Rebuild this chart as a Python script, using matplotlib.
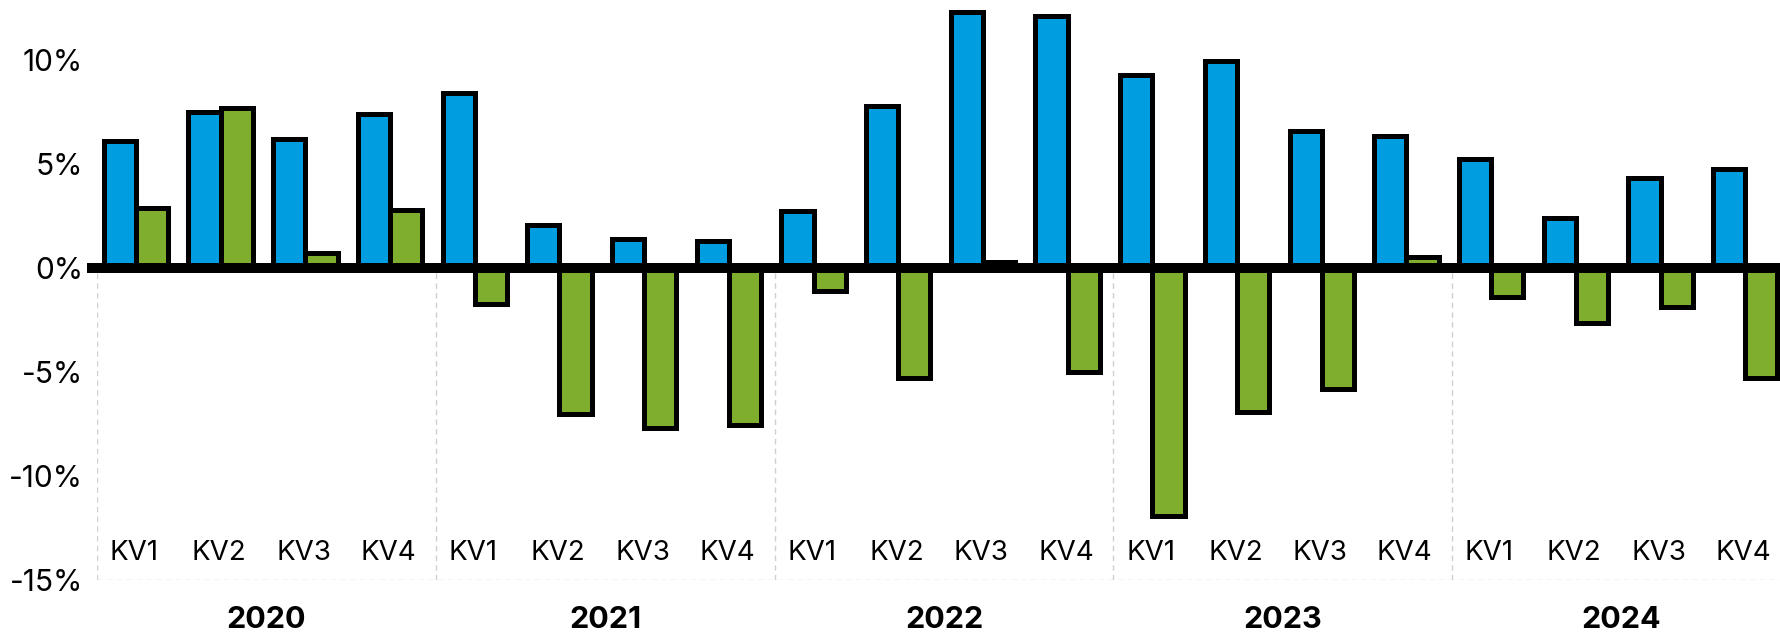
import matplotlib

matplotlib.use("Agg")
import matplotlib.pyplot as plt
import matplotlib.transforms as mtransforms
import numpy as np

plt.rcParams["font.family"] = ["Inter", "DejaVu Sans"]

years = ["2020", "2021", "2022", "2023", "2024"]
quarters = ["KV1", "KV2", "KV3", "KV4"]
blue_vals = [6.1, 7.5, 6.2, 7.4,
             8.45, 2.1, 1.4, 1.3,
             2.75, 7.8, 12.3, 12.15,
             9.3, 9.95, 6.6, 6.35,
             5.25, 2.4, 4.35, 4.75]
green_vals = [2.9, 7.7, 0.75, 2.8,
              -1.7, -7.0, -7.7, -7.55,
              -1.1, -5.3, 0.3, -5.0,
              -11.9, -6.9, -5.8, 0.55,
              -1.4, -2.65, -1.85, -5.3]
yticks = [-15, -10, -5, 0, 5, 10]

blue = "#009EE0"
green = "#7FAD2D"

fig = plt.figure(figsize=(17.8, 6.35), dpi=100)
ax = fig.add_axes([0.0545, 0.0866, 0.9455, 0.9134])

x = np.arange(len(blue_vals))
w = 0.38
ax.bar(x - 0.23, blue_vals, width=w, color=blue, edgecolor="black", linewidth=3.6, zorder=3)
ax.bar(x + 0.15, green_vals, width=w, color=green, edgecolor="black", linewidth=3.6, zorder=3)

ax.set_xlim(-0.5, 19.37)
ax.set_ylim(-15, 12.9)

# zero line
ax.axhline(0, color="black", linewidth=7.2, zorder=4, xmin=-0.003, clip_on=False)
# bottom dashed line and year separators
ax.axhline(-15, color="#d0d0d0", linewidth=1, linestyle=(0, (4, 3)), zorder=1)
for i in range(len(years)):
    ax.vlines(i * 4 - 0.5, -15, 0, color="#d0d0d0", linewidth=1,
              linestyle=(0, (4, 3)), zorder=1)

for s in ax.spines.values():
    s.set_visible(False)
ax.set_xticks([])
ax.set_yticks(yticks)
ax.set_yticklabels([f"{v}%" for v in yticks], fontsize=21.5)
ax.tick_params(axis="y", length=0, pad=10)

for i, q in enumerate(quarters * len(years)):
    ax.text(x[i] - 0.06, -13.7, q, ha="center", va="center", fontsize=20)

trans = mtransforms.blended_transform_factory(ax.transData, ax.transAxes)
for j, yr in enumerate(years):
    ax.text(j * 4 + 1.5, -0.069, yr, transform=trans, ha="center", va="center",
            fontsize=22, fontweight="bold", clip_on=False)

fig.savefig("out.png", dpi=100)
